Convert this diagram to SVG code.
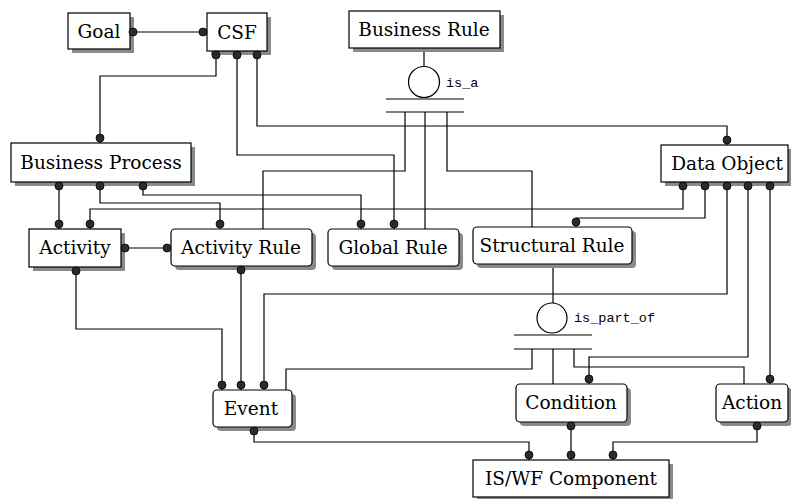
<svg xmlns="http://www.w3.org/2000/svg" width="791" height="499" viewBox="0 0 791 499">
<style>
.box{fill:#fff;stroke:#000;stroke-width:1.2}
.sh{fill:#8a8a8a}
.lbl{font-family:"DejaVu Serif","Liberation Serif",serif;font-size:18.5px;fill:#000;text-anchor:middle}
.rel{font-family:"Liberation Mono","DejaVu Sans Mono",monospace;font-size:13.5px;fill:#000}
.ln{fill:none;stroke:#000;stroke-width:1.2}
.dot{fill:#2b2b2b;stroke:#000;stroke-width:0.8}
</style>
<rect width="791" height="499" fill="#fff"/>
<g id="connectors">
<path class="ln" d="M130,32 H207"/>
<path class="ln" d="M216,51 V76 H100 V143"/>
<path class="ln" d="M237,51 V155 H394 V229"/>
<path class="ln" d="M257,51 V126 H727 V145"/>
<path class="ln" d="M59,182 V229"/>
<path class="ln" d="M100,182 V203 H220 V229"/>
<path class="ln" d="M143,182 V195 H361 V229"/>
<path class="ln" d="M683,182 V209 H90 V229"/>
<path class="ln" d="M705,182 V218 H576 V227"/>
<path class="ln" d="M727,182 V294 H264 V390"/>
<path class="ln" d="M748,182 V357 H589 V384"/>
<path class="ln" d="M770,182 V384"/>
<path class="ln" d="M121,248 H171"/>
<path class="ln" d="M76,267 V329 H222 V390"/>
<path class="ln" d="M241,266 V390"/>
<path class="ln" d="M254,427 V442 H529 V460"/>
<path class="ln" d="M571,422 V460"/>
<path class="ln" d="M757,422 V442 H613 V460"/>
<!-- is_a -->
<path class="ln" d="M424,48 V66"/>
<path class="ln" d="M386,99 H464 M386,112 H464"/>
<path class="ln" d="M405,112 V171 H263 V229"/>
<path class="ln" d="M425,112 V229"/>
<path class="ln" d="M447,112 V171 H532 V227"/>
<!-- is_part_of -->
<path class="ln" d="M553,264 V303"/>
<path class="ln" d="M514,335 H592 M514,349 H592"/>
<path class="ln" d="M532,349 V369 H286 V390"/>
<path class="ln" d="M553,349 V384"/>
<path class="ln" d="M574,349 V367 H744 V384"/>
</g>
<g id="is_a">
<circle cx="424" cy="82" r="15.5" fill="#fff" stroke="#000" stroke-width="1.2"/>
<text class="rel" x="446" y="87">is_a</text>
</g>
<g id="is_part_of">
<circle cx="552" cy="318" r="15" fill="#fff" stroke="#000" stroke-width="1.2"/>
<text class="rel" x="574" y="322">is_part_of</text>
</g>
<g id="goal"><rect class="sh" x="72" y="17" width="62" height="36"/><rect class="box" x="68" y="13" width="62" height="36"/><text class="lbl" x="99" y="38">Goal</text></g>
<g id="csf"><rect class="sh" x="211" y="17" width="60" height="38"/><rect class="box" x="207" y="13" width="60" height="38"/><text class="lbl" x="237" y="39">CSF</text></g>
<g id="business-rule"><rect class="sh" x="353" y="15" width="151" height="37"/><rect class="box" x="349" y="11" width="151" height="37"/><text class="lbl" x="424" y="36">Business Rule</text></g>
<g id="business-process"><rect class="sh" x="15" y="147" width="180" height="39"/><rect class="box" x="11" y="143" width="180" height="39"/><text class="lbl" x="101" y="169">Business Process</text></g>
<g id="data-object"><rect class="sh" x="665" y="149" width="127" height="37"/><rect class="box" x="661" y="145" width="127" height="37"/><text class="lbl" x="727" y="170">Data Object</text></g>
<g id="activity"><rect class="sh" x="33" y="233" width="92" height="38"/><rect class="box" x="29" y="229" width="92" height="38"/><text class="lbl" x="75" y="254">Activity</text></g>
<g id="activity-rule"><rect class="sh" x="175" y="233" width="141" height="37" rx="4"/><rect class="box" x="171" y="229" width="141" height="37" rx="4"/><text class="lbl" x="241" y="254">Activity Rule</text></g>
<g id="global-rule"><rect class="sh" x="332" y="233" width="131" height="37" rx="4"/><rect class="box" x="328" y="229" width="131" height="37" rx="4"/><text class="lbl" x="393" y="254">Global Rule</text></g>
<g id="structural-rule"><rect class="sh" x="477" y="231" width="159" height="37" rx="4"/><rect class="box" x="473" y="227" width="159" height="37" rx="4"/><text class="lbl" x="552" y="252">Structural Rule</text></g>
<g id="event"><rect class="sh" x="217" y="394" width="79" height="37" rx="4"/><rect class="box" x="213" y="390" width="79" height="37" rx="4"/><text class="lbl" x="251" y="415">Event</text></g>
<g id="condition"><rect class="sh" x="520" y="388" width="111" height="38" rx="4"/><rect class="box" x="516" y="384" width="111" height="38" rx="4"/><text class="lbl" x="571" y="409">Condition</text></g>
<g id="action"><rect class="sh" x="720" y="388" width="72" height="38" rx="4"/><rect class="box" x="716" y="384" width="72" height="38" rx="4"/><text class="lbl" x="752" y="409">Action</text></g>
<g id="iswf-component"><rect class="sh" x="477" y="464" width="196" height="37"/><rect class="box" x="473" y="460" width="196" height="37"/><text class="lbl" x="571" y="485">IS/WF Component</text></g>
<g id="dots">
<circle class="dot" cx="133" cy="32" r="4"/><circle class="dot" cx="203" cy="32" r="4"/>
<circle class="dot" cx="216" cy="55" r="4"/><circle class="dot" cx="237" cy="55" r="4"/><circle class="dot" cx="257" cy="55" r="4"/>
<circle class="dot" cx="100" cy="138" r="4"/><circle class="dot" cx="727" cy="140" r="4"/>
<circle class="dot" cx="59" cy="186" r="4"/><circle class="dot" cx="100" cy="186" r="4"/><circle class="dot" cx="143" cy="186" r="4"/>
<circle class="dot" cx="683" cy="186" r="4"/><circle class="dot" cx="705" cy="186" r="4"/><circle class="dot" cx="727" cy="186" r="4"/><circle class="dot" cx="748" cy="186" r="4"/><circle class="dot" cx="770" cy="186" r="4"/>
<circle class="dot" cx="59" cy="224" r="4"/><circle class="dot" cx="90" cy="224" r="4"/><circle class="dot" cx="220" cy="224" r="4"/>
<circle class="dot" cx="361" cy="224" r="4"/><circle class="dot" cx="394" cy="224" r="4"/><circle class="dot" cx="576" cy="222" r="4"/>
<circle class="dot" cx="125" cy="248" r="4"/><circle class="dot" cx="167" cy="248" r="4"/>
<circle class="dot" cx="76" cy="271" r="4"/><circle class="dot" cx="241" cy="270" r="4"/>
<circle class="dot" cx="222" cy="385" r="4"/><circle class="dot" cx="241" cy="385" r="4"/><circle class="dot" cx="264" cy="385" r="4"/>
<circle class="dot" cx="589" cy="379" r="4"/><circle class="dot" cx="770" cy="379" r="4"/>
<circle class="dot" cx="254" cy="431" r="4"/><circle class="dot" cx="571" cy="426" r="4"/><circle class="dot" cx="757" cy="426" r="4"/>
<circle class="dot" cx="529" cy="455" r="4"/><circle class="dot" cx="571" cy="455" r="4"/><circle class="dot" cx="613" cy="455" r="4"/>
</g>
</svg>
